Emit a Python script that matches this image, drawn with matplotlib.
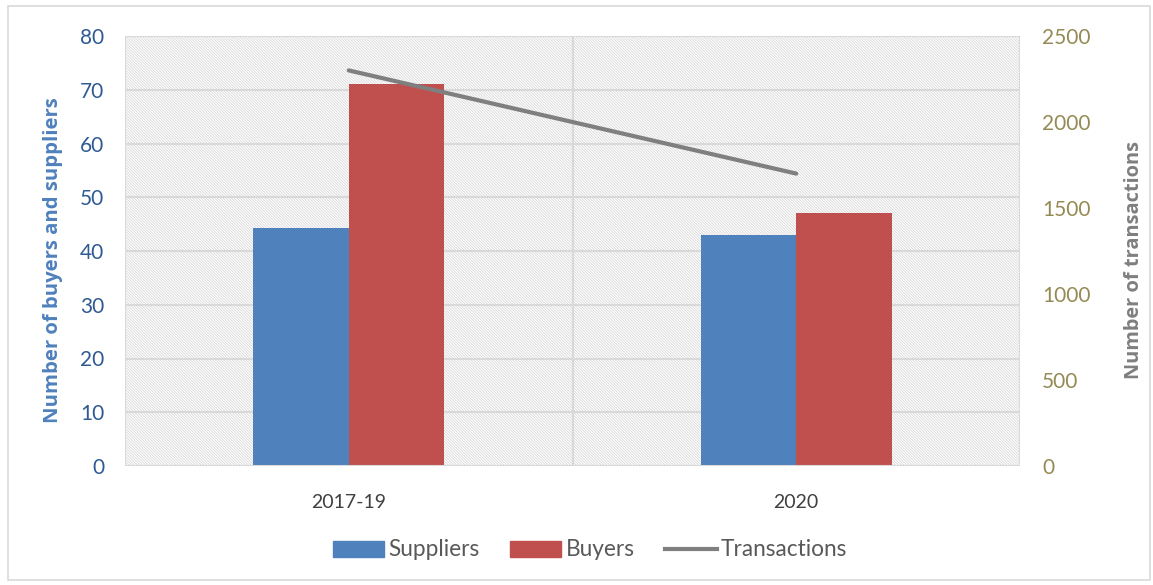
import matplotlib.pyplot as plt
from matplotlib.patches import Rectangle, Patch
from matplotlib.lines import Line2D
import numpy as np

plt.rcParams['font.family'] = ['Lato', 'DejaVu Sans']
plt.rcParams['hatch.linewidth'] = 0.6
plt.rcParams['hatch.color'] = '#d8d8d8'

# data
periods = ['2017-19', '2020']
suppliers = [44.3, 43.0]
buyers = [71.0, 47.0]
transactions = [2300, 1700]

fig = plt.figure(figsize=(11.53, 5.85), dpi=100)
ax = fig.add_axes([125 / 1153, 119 / 585, 895 / 1153, 430 / 585])

# outer chart border
fig.patches.append(Rectangle((8 / 1153, 5 / 585), 1142 / 1153, 574 / 585,
                             transform=fig.transFigure, fill=False,
                             edgecolor='#d9d9d9', linewidth=1.2))

# hatched plot area
ax.add_patch(Rectangle((0, 0), 1, 1, transform=ax.transAxes, facecolor='white',
                       edgecolor='#d8d8d8', hatch='\\' * 12, linewidth=0, zorder=0.1))

x = np.arange(len(periods))
w = 0.213
ax.bar(x - w / 2, suppliers, w, color='#4F81BD', zorder=2, label='Suppliers')
ax.bar(x + w / 2, buyers, w, color='#C0504D', zorder=2, label='Buyers')

ax.set_xlim(-0.5, 1.5)
ax.set_ylim(0, 80)
ax.set_yticks(range(0, 81, 10))
ax.set_xticks(x)
ax.set_xticklabels(periods, color='#404040', fontsize=14)
ax.set_axisbelow(True)
ax.grid(axis='y', color='#d9d9d9', linewidth=1.5, zorder=0.5)
for xv in [-0.5, 0.5, 1.5]:
    ax.axvline(xv, color='#d9d9d9', linewidth=1.5, zorder=0.5)
for s in ax.spines.values():
    s.set_visible(False)
ax.axhline(0, color='#d9d9d9', linewidth=1.5, zorder=3)
ax.tick_params(axis='y', length=0, labelcolor='#2F5A93', labelsize=15, pad=15)
ax.tick_params(axis='x', length=0, pad=20)
ax.set_ylabel('Number of buyers and suppliers', color='#4F81BD', fontsize=14.6,
              fontweight='bold', family=['Open Sans', 'DejaVu Sans'], labelpad=12)
ax.yaxis.label.set_y(0.479)

ax2 = ax.twinx()
ax2.plot(x, transactions, color='#7F7F7F', linewidth=3, solid_capstyle='round')
ax2.set_ylim(0, 2500)
ax2.set_yticks(range(0, 2501, 500))
ax2.tick_params(axis='y', length=0, labelcolor='#948A54', labelsize=15, pad=16)
for s in ax2.spines.values():
    s.set_visible(False)
ax2.set_ylabel('Number of transactions', color='#7F7F7F', fontsize=14.4,
               fontweight='bold', family=['Open Sans', 'DejaVu Sans'], labelpad=24)
ax2.yaxis.label.set_y(0.479)

handles = [Patch(color='#4F81BD', label='Suppliers'),
           Patch(color='#C0504D', label='Buyers'),
           Line2D([], [], color='#7F7F7F', linewidth=3, label='Transactions')]
leg = fig.legend(handles=handles, loc='center', bbox_to_anchor=(590 / 1153, 35 / 585), ncol=3,
                 frameon=False, fontsize=16.3, handlelength=2.26, handleheight=0.7,
                 handletextpad=0.2, columnspacing=1.35)
for t in leg.get_texts():
    t.set_color('#595959')

fig.savefig('out.png', dpi=100)
